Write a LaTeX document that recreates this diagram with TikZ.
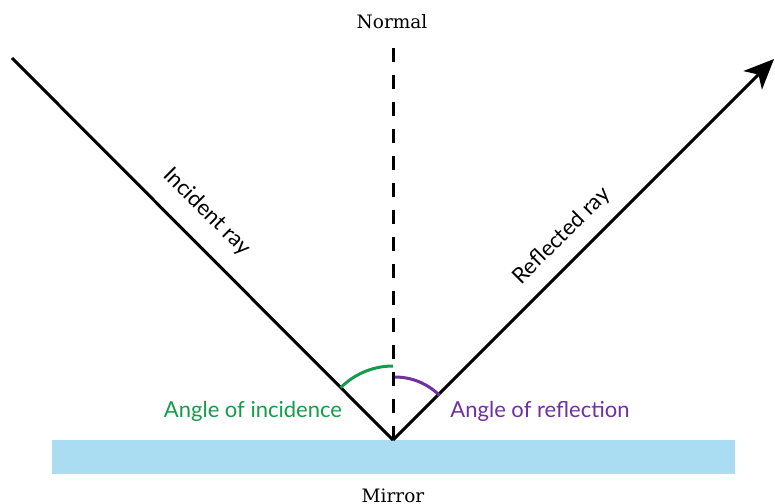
\documentclass[tikz,border=0pt]{standalone}
\usepackage{fontspec}
\setmainfont{Lato}
\newfontfamily\slabfont{DejaVu Serif}
\usetikzlibrary{arrows.meta}
\definecolor{incgreen}{RGB}{22,155,75}
\definecolor{refpurple}{RGB}{112,48,160}
\definecolor{mirrorblue}{RGB}{170,221,242}
\tikzset{
  ray/.style={line width=3pt, black},
  normalline/.style={line width=3pt, black, dash pattern=on 14pt off 13pt},
  lbl/.style={font=\fontsize{22}{24}\selectfont, inner sep=0pt},
  slablbl/.style={font=\slabfont\fontsize{18.5}{20}\selectfont, inner sep=0pt},
  arcline/.style={line width=3pt}
}
\begin{document}
\begin{tikzpicture}[x=1pt,y=-1pt]
\useasboundingbox (0,0) rectangle (775,503);
\fill[mirrorblue] (52,440) rectangle (735,474);
\coordinate (O) at (393,440);
\coordinate (A) at (12,58);
\coordinate (B) at (774,59);
\coordinate (N) at (393,42);
\draw[normalline] (O) -- (N);
\draw[ray] (A) -- (O);
\draw[ray, -{Stealth[length=30pt,width=26pt,inset=8pt]}] (O) -- (B);
\draw[arcline, incgreen] ([shift={(0,-74)}]O) arc[start angle=-90, end angle=-135, radius=74];
\draw[arcline, refpurple] ([shift={(2,-63)}]O) arc[start angle=-90, end angle=-45, radius=63];
\node[slablbl] (normal) at (392,22) {Normal};
\node[slablbl] (mirror) at (393,496) {Mirror};
\node[lbl, rotate=-45] (inc) at (207,212) {Incident ray};
\node[lbl, rotate=45] (refl) at (562,236) {Reflected ray};
\node[lbl, text=incgreen] (aoi) at (253,411) {Angle of incidence};
\node[lbl, text=refpurple] (aor) at (540,411) {Angle of reflection};
\end{tikzpicture}
\end{document}
